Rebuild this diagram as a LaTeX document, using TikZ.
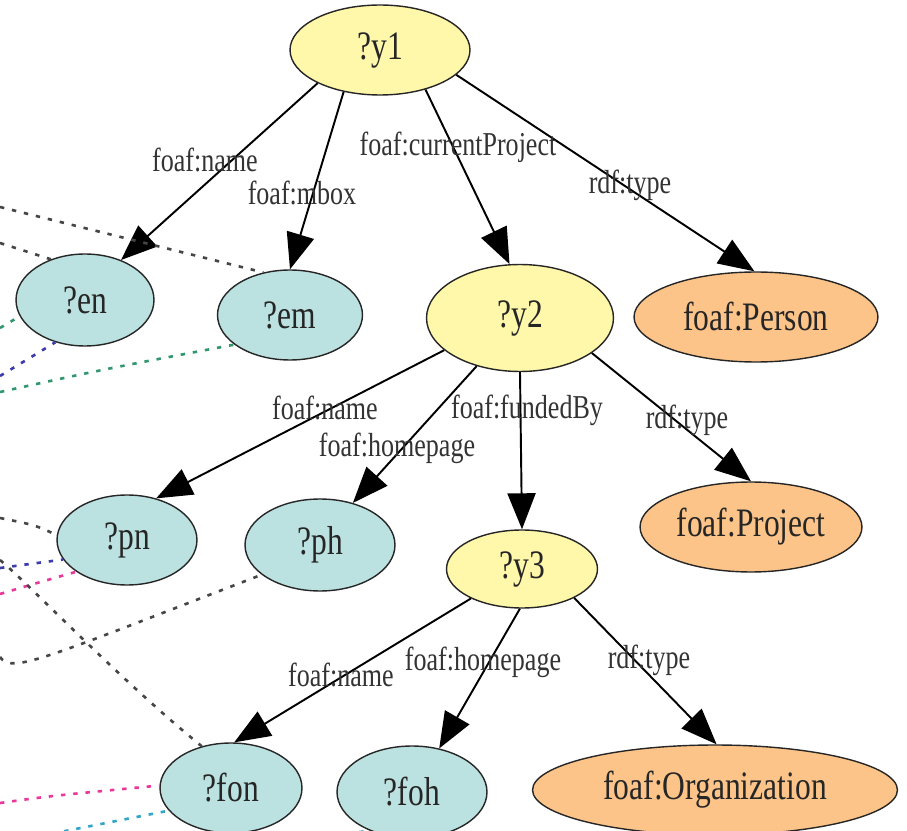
\documentclass[tikz,border=0pt]{standalone}
\usepackage{fontspec}
\setmainfont{Liberation Serif}
\newfontfamily\varfont[FakeStretch=0.78]{Liberation Serif}
\usepackage{tikz}
\usetikzlibrary{shapes.geometric, arrows.meta, positioning}
\definecolor{varyellow}{RGB}{255,247,170}
\definecolor{varcyan}{RGB}{187,226,224}
\definecolor{classorange}{RGB}{252,196,137}
\definecolor{linkgray}{RGB}{70,70,70}
\definecolor{linkgreen}{RGB}{50,150,110}
\definecolor{linkblue}{RGB}{60,60,170}
\definecolor{linkpink}{RGB}{232,57,154}
\definecolor{linkcyan}{RGB}{50,165,200}

\begin{document}
\begin{tikzpicture}[
    x=0.02cm, y=-0.02cm,
    var/.style={ellipse, draw=black!85, line width=0.8pt, inner sep=0pt, text=black!85, font=\varfont\fontsize{23}{26}\selectfont},
    subj/.style={var, fill=varyellow},
    obj/.style={var, fill=varcyan},
    cls/.style={var, fill=classorange},
    prop/.style={text=black!80, inner sep=0pt, font=\varfont\fontsize{19}{22}\selectfont},
    relation/.style={-{Triangle[length=0.72cm, width=0.56cm]}, line width=1.1pt},
    link/.style={dash pattern=on 2.5pt off 4.5pt, line width=1.5pt},
]
\useasboundingbox (0,0) rectangle (907,831);

% query variables
\node[subj, minimum width=3.6cm, minimum height=1.8cm] (y1) at (380,50) {?y1};
\node[obj, minimum width=2.76cm, minimum height=1.84cm] (en) at (85,300) {?en};
\node[obj, minimum width=2.9cm, minimum height=1.8cm] (em) at (290,315) {?em};
\node[subj, minimum width=3.74cm, minimum height=2.14cm] (y2) at (520,318) {?y2};
\node[cls, minimum width=4.88cm, minimum height=1.8cm] (person) at (756,317) {foaf:Person};
\node[obj, minimum width=2.8cm, minimum height=1.8cm] (pn) at (127,540) {?pn};
\node[obj, minimum width=3.0cm, minimum height=1.84cm] (ph) at (320,545) {?ph};
\node[cls, minimum width=4.44cm, minimum height=1.8cm] (project) at (751,527) {foaf:Project};
\node[subj, minimum width=3.02cm, minimum height=1.56cm] (y3) at (522,569) {?y3};
\node[obj, minimum width=2.84cm, minimum height=1.8cm] (fon) at (231,788) {?fon};
\node[obj, minimum width=3.0cm, minimum height=1.84cm] (foh) at (412,792) {?foh};
\node[cls, minimum width=7.3cm, minimum height=1.8cm] (org) at (715,790) {foaf:Organization};

% properties
\draw[relation] (y1.208) -- (en.48);
\draw[relation] (y1.229) -- (em.90);
\draw[relation] (y1.319) -- (y2.101);
\draw[relation] (y1.342) -- (person.92);
\draw[relation] (y2.203) -- (pn.55);
\draw[relation] (y2.228) -- (ph.52);
\draw[relation] (y2.270) -- (y3.90);
\draw[relation] (y2.334) -- (project.90);
\draw[relation] (y3.210) -- (fon.86);
\draw[relation] (y3.267) -- (foh.58);
\draw[relation] (y3.331) -- (org.88);

\node[prop] (p1) at (205,160) {foaf:name};
\node[prop] (p2) at (302,193) {foaf:mbox};
\node[prop] (p3) at (458,147) {foaf:currentProject};
\node[prop] (p4) at (630,185) {rdf:type};
\node[prop] (p5) at (325,408) {foaf:name};
\node[prop] (p6) at (397,448) {foaf:homepage};
\node[prop] (p7) at (527,410) {foaf:fundedBy};
\node[prop] (p8) at (687,420) {rdf:type};
\node[prop] (p9) at (341,675) {foaf:name};
\node[prop] (p10) at (483,662) {foaf:homepage};
\node[prop] (p11) at (649,660) {rdf:type};

% links to the rest of the graph
\coordinate (d1) at (0,207);
\coordinate (d2) at (0,243);
\coordinate (d3) at (0,328);
\coordinate (d4) at (0,376);
\coordinate (d5) at (0,392);
\coordinate (d6) at (0,518);
\coordinate (d7) at (0,568);
\coordinate (d8) at (0,594);
\coordinate (d9) at (0,560);
\coordinate (d10) at (0,657);
\coordinate (d11) at (0,803);
\coordinate (d12) at (40,836);
\coordinate (d13) at (335,836);

\draw[link, linkgray] (d1) -- (em.122);
\draw[link, linkgray] (d2) -- (en.130);
\draw[link, linkgreen] (d3) -- (en.194);
\draw[link, linkblue] (d4) -- (en.235);
\draw[link, linkgreen] (d5) .. controls (100,370) .. (em.208);
\draw[link, linkgray] (d6) .. controls (35,525) .. (pn.176);
\draw[link, linkblue] (d7) -- (pn.197);
\draw[link, linkpink] (d8) .. controls (30,585) .. (pn.212);
\draw[link, linkgray] (d9) .. controls (30,585) and (120,680) .. (fon.125);
\draw[link, linkgray] (d10) .. controls (12,674) and (40,660) .. (ph.207);
\draw[link, linkpink] (d11) .. controls (50,796) .. (fon.178);
\draw[link, linkcyan] (d12) -- (fon.200);
\draw[link, linkcyan] (d13) -- (foh.222);

\end{tikzpicture}
\end{document}
